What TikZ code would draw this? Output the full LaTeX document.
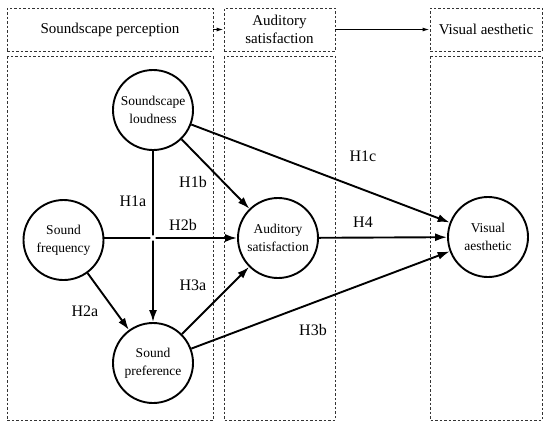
\documentclass[tikz,border=0pt]{standalone}
\usepackage{fontspec}
\setmainfont{Liberation Serif}
\newfontfamily\fTimes{Liberation Serif}
\usepackage{xcolor}
\definecolor{cMain}{HTML}{000000}
\definecolor{cFrame}{HTML}{333333}
\usetikzlibrary{arrows.meta}
\tikzset{
  node-var/.style={draw=cMain,line width=1.9pt,circle,minimum size=80pt,
    inner sep=0pt,align=center,font=\fTimes\fontsize{13.5}{18}\selectfont},
  node-head/.style={draw=cFrame,dash pattern=on 2.5pt off 2pt,
    line width=0.9pt,minimum height=43pt,inner sep=0pt,align=center,
    font=\fTimes\fontsize{15}{18}\selectfont},
  frame/.style={draw=cFrame,dash pattern=on 2.5pt off 2pt,line width=0.9pt},
  arrow/.style={-{Latex[length=12pt,width=8pt]},line width=1.9pt,draw=cMain},
  arrow-head/.style={-{Latex[length=7pt,width=4pt]},line width=1.2pt,draw=cMain},
  hyp/.style={font=\fTimes\fontsize{16}{18}\selectfont},
}

\begin{document}
\begin{tikzpicture}[x=1pt,y=-1pt]
  \useasboundingbox (0,0) rectangle (550,429);
  % top row
  \node[node-head,minimum width=206pt] (h1) at (110,29.5) {Soundscape perception};
  \node[node-head,minimum width=111pt] (h2) at (279.5,29.5) {Auditory\\satisfaction};
  \node[node-head,minimum width=112pt] (h3) at (486,29.5) {Visual aesthetic};
  \draw[arrow-head] (h1) -- (h2);
  \draw[arrow-head] (h2) -- (h3);
  % lower frames
  \draw[frame] (7,56) rectangle (213,420);
  \draw[frame] (224,56) rectangle (335,420);
  \draw[frame] (430,56) rectangle (542,420);
  % variables
  \node[node-var] (loud) at (153,110) {Soundscape\\loudness};
  \node[node-var] (freq) at (63.5,240) {Sound\\frequency};
  \node[node-var] (pref) at (153,363) {Sound\\preference};
  \node[node-var] (sat) at (278,238) {Auditory\\satisfaction};
  \node[node-var] (vis) at (488,237) {Visual\\aesthetic};
  \coordinate (x) at (153,238);
  % paths
  \draw[arrow] (freq.east |- x) -- (sat);
  \draw[arrow] (loud) -- (pref);
  \fill[white] (x) circle (2.8pt);
  \draw[arrow] (loud) -- (sat);
  \draw[arrow] (loud) -- (vis);
  \draw[arrow] (freq) -- (pref);
  \draw[arrow] (pref) -- (sat);
  \draw[arrow] (pref) -- (vis);
  \draw[arrow] (sat) -- (vis);
  % labels
  \node[hyp] (l1a) at (133,201) {H1a};
  \node[hyp] (l1b) at (193,182) {H1b};
  \node[hyp] (l1c) at (363,156) {H1c};
  \node[hyp] (l2a) at (85,311) {H2a};
  \node[hyp] (l2b) at (183,225) {H2b};
  \node[hyp] (l3a) at (193,285) {H3a};
  \node[hyp] (l3b) at (313,330) {H3b};
  \node[hyp] (l4) at (363,222) {H4};
\end{tikzpicture}
\end{document}
